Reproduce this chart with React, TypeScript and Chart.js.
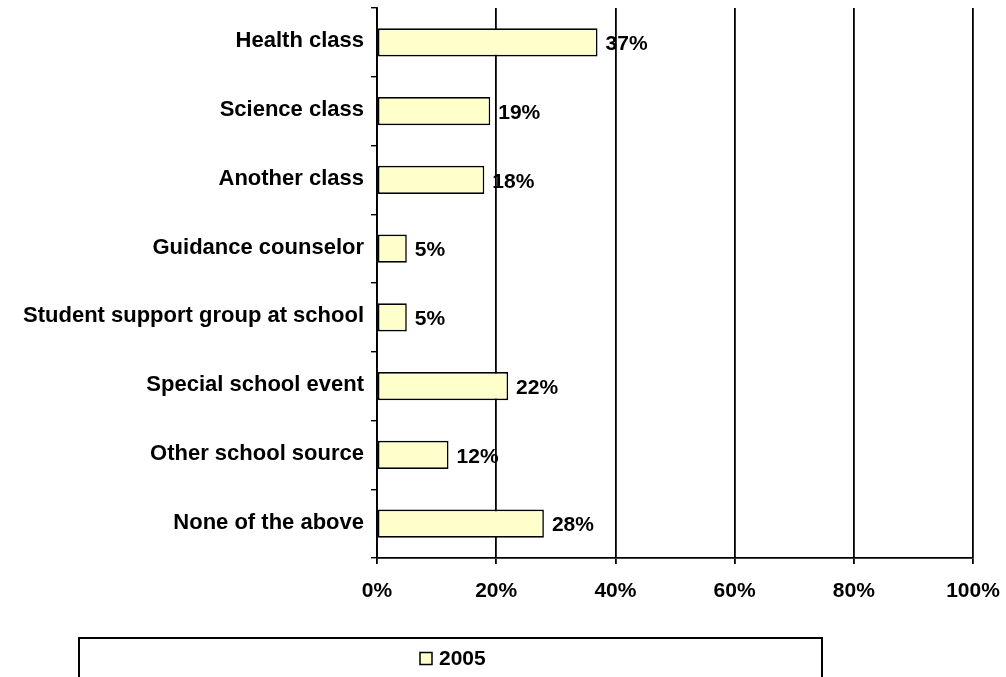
import React, { useEffect, useRef } from "react";
import { Chart, registerables } from "chart.js";

Chart.register(...registerables);

const categories = [
  "Health class",
  "Science class",
  "Another class",
  "Guidance counselor",
  "Student support group at school",
  "Special school event",
  "Other school source",
  "None of the above",
];
const values2005 = [37, 19, 18, 5, 5, 22, 12, 28];
const seriesLabel = "2005";
const xTicks = [0, 20, 40, 60, 80, 100];

const FONT = "'Liberation Sans', Arial, Helvetica, sans-serif";
const BAR_FILL = "#FFFFCC";

const dataLabelPlugin = {
  id: "dataLabels",
  afterDatasetsDraw(chart: any) {
    const ctx = chart.ctx;
    const meta = chart.getDatasetMeta(0);
    const data = chart.data.datasets[0].data;
    ctx.save();
    ctx.font = `bold 21px ${FONT}`;
    ctx.fillStyle = "#000";
    ctx.textAlign = "left";
    ctx.textBaseline = "middle";
    meta.data.forEach((bar: any, i: number) => {
      ctx.fillText(`${data[i]}%`, bar.x + 8, bar.y + 2);
    });
    ctx.restore();
  },
};

const legendBoxPlugin = {
  id: "legendBox",
  afterDraw(chart: any) {
    const ctx = chart.ctx;
    const ds = chart.data.datasets[0];
    ctx.save();
    ctx.strokeStyle = "#000";
    ctx.lineWidth = 2;
    ctx.strokeRect(79, 638, 743, 60);
    ctx.fillStyle = ds.backgroundColor;
    ctx.fillRect(420, 652.5, 12, 12);
    ctx.lineWidth = 1.5;
    ctx.strokeRect(420, 652.5, 12, 12);
    ctx.fillStyle = "#000";
    ctx.font = `bold 21px ${FONT}`;
    ctx.textAlign = "left";
    ctx.textBaseline = "middle";
    ctx.fillText(ds.label, 439, 659);
    ctx.restore();
  },
};

export default function App() {
  const ref = useRef<HTMLCanvasElement | null>(null);

  useEffect(() => {
    document.body.style.margin = "0";
    if (!ref.current) return;
    const chart = new Chart(ref.current, {
      type: "bar",
      data: {
        labels: categories,
        datasets: [
          {
            label: seriesLabel,
            data: values2005,
            backgroundColor: BAR_FILL,
            borderColor: "#000",
            borderWidth: 1.6,
            borderSkipped: false,
            categoryPercentage: 1,
            barPercentage: 0.41,
          },
        ],
      },
      options: {
        indexAxis: "y",
        animation: false,
        responsive: false,
        devicePixelRatio: 1,
        layout: { padding: { left: 0, right: 33, top: 8, bottom: 69 } },
        plugins: {
          legend: { display: false },
          tooltip: { enabled: false },
        },
        scales: {
          x: {
            min: 0,
            max: 100,
            afterBuildTicks(scale: any) {
              scale.ticks = xTicks.map((v) => ({ value: v }));
            },
            afterFit(scale: any) {
              scale.height = 50;
              scale.paddingLeft = 0;
              scale.paddingRight = 0;
            },
            ticks: {
              callback: (v: any) => `${v}%`,
              color: "#000",
              font: { family: FONT, size: 21, weight: "bold" },
              padding: 15,
              maxRotation: 0,
            },
            grid: {
              color: "#000",
              lineWidth: 1.8,
              tickLength: 6,
              drawTicks: true,
            },
            border: { color: "#000", width: 1.8 },
          },
          y: {
            afterFit(scale: any) {
              scale.width = 377;
              scale.paddingTop = 0;
              scale.paddingBottom = 0;
            },
            ticks: {
              color: "#000",
              font: { family: FONT, size: 22, weight: "bold" },
              padding: 7,
              labelOffset: -1,
              autoSkip: false,
            },
            grid: {
              offset: true,
              drawOnChartArea: false,
              drawTicks: true,
              tickLength: 6,
              color: "#000",
              lineWidth: 1.4,
            },
            border: { color: "#000", width: 1.8 },
          },
        },
      },
      plugins: [dataLabelPlugin, legendBoxPlugin],
    });
    return () => chart.destroy();
  }, []);

  return (
    <div style={{ position: "absolute", left: 0, top: 0, width: 1006, height: 677 }}>
      <canvas ref={ref} width={1006} height={677} />
    </div>
  );
}
